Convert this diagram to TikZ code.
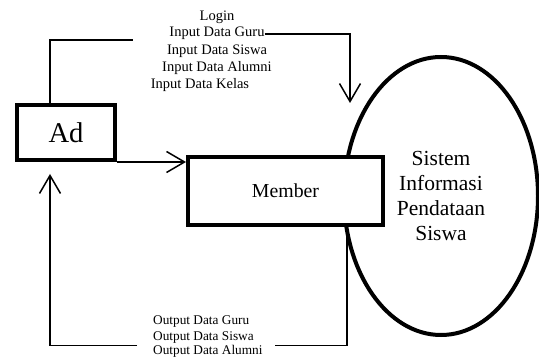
\documentclass[tikz,border=0pt]{standalone}
\usepackage{fontspec}
\setmainfont{Liberation Serif}
\usetikzlibrary{arrows.meta, positioning, calc, shapes.geometric}

\tikzset{
  box/.style={draw, line width=4pt, fill=white, inner sep=0pt},
  flow/.style={line width=1.5pt},
  flowarrow/.style={flow, -{Straight Barb[length=18pt,width=21pt,line width=1.5pt]}},
  lbltop/.style={anchor=base, inner sep=0pt, font=\fontsize{14.5}{17}\selectfont},
  lblbot/.style={anchor=base west, inner sep=0pt, font=\fontsize{13.3}{15.5}\selectfont}
}

\begin{document}
\begin{tikzpicture}[x=1pt, y=-1pt]
\useasboundingbox (0,0) rectangle (539,358);
\node[ellipse, draw, line width=4pt, minimum width=194pt, minimum height=278pt, inner sep=0pt, align=center, font=\fontsize{21.5}{24.8}\selectfont] (SIPS) at (441,196) {Sistem\\Informasi\\Pendataan\\Siswa};
\node[box, minimum width=195pt, minimum height=68pt, font=\fontsize{19.8}{22}\selectfont] (Member) at (285.5,191) {Member};
\node[box, minimum width=98pt, minimum height=55pt, font=\fontsize{28.6}{30}\selectfont] (Ad) at (66,132.5) {Ad};
% input labels
\node[lbltop] (L1) at (217,21) {Login};
\node[lbltop] (L2) at (217,37) {Input Data Guru};
\node[lbltop] (L3) at (217,55) {Input Data Siswa};
\node[lbltop] (L4) at (217,72) {Input Data Alumni};
\node[lbltop] (L5) at (200,89) {Input Data Kelas};
% output labels
\node[lblbot] (O1) at (153,325) {Output Data Guru};
\node[lblbot] (O2) at (153,340.5) {Output Data Siswa};
\node[lblbot] (O3) at (153,355) {Output Data Alumni};
% coordinates for the flows
\coordinate (AdTop) at ([xshift=-16pt]Ad.north);
\coordinate (InL) at (133,40);
\coordinate (InR) at (L2.base east);
\coordinate (InTip) at (350,103);
\coordinate (OutR) at (275,345.5);
\coordinate (OutL) at (137,345.5);
\coordinate (OutTip) at (AdTop |- 0,174);
\coordinate (MemOut) at (347,0);
% flows
\draw[flow] (AdTop) |- (InL);
\draw[flowarrow] ([yshift=3pt]InR) -| (InTip);
\draw[flowarrow] (Ad.south east) -- (Ad.south east -| Member.west);
\draw[flow] (MemOut |- Member.south) |- (OutR);
\draw[flowarrow] (OutL) -| (OutTip);
\end{tikzpicture}
\end{document}
